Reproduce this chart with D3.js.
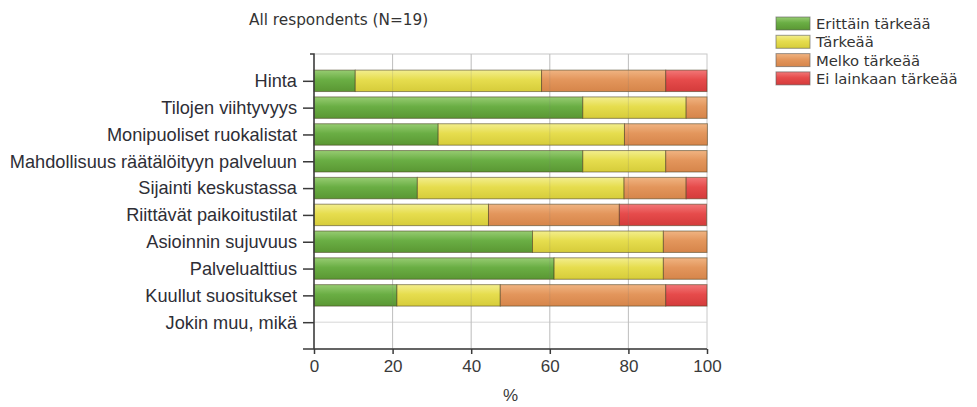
<!DOCTYPE html>
<html>
<head>
<meta charset="utf-8">
<script src="https://cdn.jsdelivr.net/npm/d3@7"></script>
<style>
  html, body { margin: 0; padding: 0; background: #fff; }
  svg { display: block; }
</style>
</head>
<body>
<svg id="chart" width="977" height="407"></svg>
<script>
// Survey items, top to bottom
const categories = [
  "Hinta",
  "Tilojen viihtyvyys",
  "Monipuoliset ruokalistat",
  "Mahdollisuus räätälöityyn palveluun",
  "Sijainti keskustassa",
  "Riittävät paikoitustilat",
  "Asioinnin sujuvuus",
  "Palvelualttius",
  "Kuullut suositukset",
  "Jokin muu, mikä"
];

// Share of answers per importance level (%)
const erittainTarkeaa = [10.5, 68.4, 31.6, 68.4, 26.3, 0,    55.6, 61.1, 21.1, 0];
const tarkeaa         = [47.4, 26.3, 47.4, 21.1, 52.6, 44.4, 33.3, 27.8, 26.3, 0];
const melkoTarkeaa    = [31.6, 5.3,  21.1, 10.5, 15.8, 33.3, 11.1, 11.1, 42.1, 0];
const eiLainkaan      = [10.5, 0,    0,    0,    5.3,  22.2, 0,    0,    10.5, 0];

const seriesNames = ["Erittäin tärkeää", "Tärkeää", "Melko tärkeää", "Ei lainkaan tärkeää"];
const xTicks = [0, 20, 40, 60, 80, 100];
const title = "All respondents (N=19)";
const xTitle = "%";

// Colour ramps (top, middle, bottom) for the glossy bar fills
const ramps = [
  ["#97cc72", "#6aae44", "#5a9733"],
  ["#f3ee8e", "#e6dd4e", "#d6cc3a"],
  ["#f0b482", "#e3965c", "#d6854a"],
  ["#f27777", "#e64b4b", "#d43b3b"]
];

const rows = categories.map((c, i) => ({
  cat: c,
  [seriesNames[0]]: erittainTarkeaa[i],
  [seriesNames[1]]: tarkeaa[i],
  [seriesNames[2]]: melkoTarkeaa[i],
  [seriesNames[3]]: eiLainkaan[i]
}));

const svg = d3.select("#chart");
const plot = { left: 314, right: 707, top: 54, bottom: 349 };

const x = d3.scaleLinear().domain([0, 100]).range([plot.left, plot.right]);
const y = d3.scalePoint().domain(categories).range([plot.top, plot.bottom]).padding(1);
const barH = y.step() * 0.8;

// Gradients
const defs = svg.append("defs");
ramps.forEach((r, i) => {
  const g = defs.append("linearGradient")
    .attr("id", "grad" + i).attr("x1", 0).attr("y1", 0).attr("x2", 0).attr("y2", 1);
  g.append("stop").attr("offset", "0%").attr("stop-color", r[0]);
  g.append("stop").attr("offset", "45%").attr("stop-color", r[1]);
  g.append("stop").attr("offset", "100%").attr("stop-color", r[2]);
});

// Plot frame (light) and grid
svg.append("rect")
  .attr("x", plot.left).attr("y", plot.top)
  .attr("width", plot.right - plot.left).attr("height", plot.bottom - plot.top)
  .attr("fill", "#fff").attr("stroke", "#c8c8c8").attr("stroke-width", 1);

svg.append("g").selectAll("line")
  .data(categories).join("line")
  .attr("x1", plot.left).attr("x2", plot.right)
  .attr("y1", d => y(d)).attr("y2", d => y(d))
  .attr("stroke", "#d6d6d6").attr("stroke-width", 1);

svg.append("g").selectAll("line")
  .data(xTicks.slice(1, -1)).join("line")
  .attr("x1", d => x(d)).attr("x2", d => x(d))
  .attr("y1", plot.top).attr("y2", plot.bottom)
  .attr("stroke", "#cfcfcf").attr("stroke-width", 1);

// Stacked bars
const stack = d3.stack().keys(seriesNames)(rows);
svg.append("g").selectAll("g")
  .data(stack).join("g")
  .attr("fill", (d, i) => `url(#grad${i})`)
  .selectAll("rect")
  .data(d => d.filter(p => p[1] - p[0] > 0))
  .join("rect")
  .attr("x", d => x(d[0]))
  .attr("width", d => x(d[1]) - x(d[0]))
  .attr("y", d => y(d.data.cat) - barH / 2)
  .attr("height", barH)
  .attr("stroke", "rgba(70,60,30,0.55)")
  .attr("stroke-width", 1);

// Faint vertical grid showing through the bars
svg.append("g").selectAll("line")
  .data(xTicks.slice(1, -1)).join("line")
  .attr("x1", d => x(d)).attr("x2", d => x(d))
  .attr("y1", plot.top).attr("y2", plot.bottom)
  .attr("stroke", "rgba(120,120,120,0.18)").attr("stroke-width", 1);

// Axes
const axisColor = "#3a3a3a";
const labelFont = "'Liberation Sans', Arial, sans-serif";

const yAxis = svg.append("g")
  .attr("transform", `translate(${plot.left},0)`)
  .call(d3.axisLeft(y).tickSize(11).tickSizeOuter(0).tickPadding(6));
yAxis.select(".domain").remove();
yAxis.selectAll(".tick line").attr("stroke", axisColor).attr("stroke-width", 1.5);
yAxis.selectAll(".tick text")
  .attr("fill", "#2e2e36").style("font-family", labelFont).style("font-size", "18.2px");

const xAxis = svg.append("g")
  .attr("transform", `translate(0,${plot.bottom})`)
  .call(d3.axisBottom(x).tickValues(xTicks).tickSize(5).tickSizeOuter(0).tickPadding(6));
xAxis.select(".domain").remove();
xAxis.selectAll(".tick line").attr("stroke", axisColor).attr("stroke-width", 1.5);
xAxis.selectAll(".tick text")
  .attr("fill", "#3a3a3a").style("font-family", labelFont).style("font-size", "17px");

// Axis lines with the short end extensions
svg.append("path")
  .attr("d", `M${plot.left - 4},${plot.top}H${plot.left}V${plot.bottom}`)
  .attr("fill", "none").attr("stroke", axisColor).attr("stroke-width", 1.5);
svg.append("path")
  .attr("d", `M${plot.left - 11},${plot.bottom}H${plot.right}`)
  .attr("fill", "none").attr("stroke", axisColor).attr("stroke-width", 1.5);

// Axis title
svg.append("text")
  .attr("x", (plot.left + plot.right) / 2).attr("y", 401)
  .attr("text-anchor", "middle")
  .attr("fill", "#3a3a3a")
  .style("font-family", labelFont).style("font-size", "17px")
  .text(xTitle);

// Chart title
svg.append("text")
  .attr("x", 249).attr("y", 25)
  .attr("fill", "#333")
  .style("font-family", "'DejaVu Sans', Verdana, sans-serif").style("font-size", "15.3px")
  .text(title);

// Legend
const legend = svg.append("g").attr("transform", "translate(776,17)");
const lg = legend.selectAll("g").data(seriesNames).join("g")
  .attr("transform", (d, i) => `translate(0,${i * 18.3})`);
lg.append("rect")
  .attr("width", 34).attr("height", 13)
  .attr("fill", (d, i) => `url(#grad${i})`)
  .attr("stroke", "rgba(90,90,90,0.6)").attr("stroke-width", 1);
lg.append("text")
  .attr("x", 40).attr("y", 12)
  .attr("fill", "#333")
  .style("font-family", "'DejaVu Sans', Verdana, sans-serif").style("font-size", "14.8px")
  .text(d => d);
</script>
</body>
</html>
